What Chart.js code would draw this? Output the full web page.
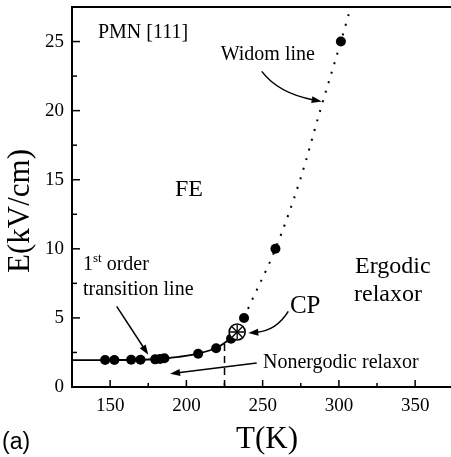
<!DOCTYPE html>
<html>
<head>
<meta charset="utf-8">
<script src="https://cdn.jsdelivr.net/npm/chart.js@4.4.0/dist/chart.umd.min.js"></script>
<style>
  html, body { margin: 0; padding: 0; background: #fff; }
  #wrap { width: 451px; height: 457px; }
</style>
</head>
<body>
<div id="wrap"><canvas id="phaseChart"></canvas></div>
<script>
// axis ticks
const xTicks = [150, 200, 250, 300, 350]
const xMinor = [175, 225, 275, 325]
const yTicks = [0, 5, 10, 15, 20, 25]
const yMinor = [2.5, 7.5, 12.5, 17.5, 22.5]

// measured points
const pointT = [146.7, 152.8, 163.8, 169.9, 179.5, 182.8, 185.6, 207.7, 219.5, 229.3, 237.8, 258.4, 301.3]
const pointE = [1.95, 1.95, 1.97, 1.97, 2.0, 2.03, 2.08, 2.41, 2.8, 3.5, 4.99, 10.0, 25.0]

// critical point
const cpT = [233.3]
const cpE = [3.98]

// 1st order transition line (solid)
const firstOrderT = [125, 150, 175, 185, 195, 207.7, 219.5, 227, 233.3]
const firstOrderE = [1.94, 1.95, 1.99, 2.06, 2.18, 2.42, 2.82, 3.35, 3.98]

// Widom line (dotted)
const widomT = [237.8, 241.7, 258.4, 274.6, 287.7, 301.3, 307.8]
const widomE = [4.99, 5.97, 10.0, 15.0, 20.0, 25.0, 27.5]

// dashed marker at 225 K
const markT = [225, 225]
const markE = [0, 3.3]

const xy = (xs, ys) => xs.map((v, i) => ({ x: v, y: ys[i] }))

const notes = [
  { text: 'PMN [111]', t: 142, e: 25.64, size: 20 },
  { text: 'Widom line', t: 222.5, e: 24.04, size: 20 },
  { text: 'FE', t: 201.7, e: 14.28, size: 24, align: 'center' },
  { text: 'Ergodic', t: 310.6, e: 8.7, size: 24 },
  { text: 'relaxor', t: 309.9, e: 6.68, size: 24 },
  { text: 'CP', t: 267.9, e: 5.81, size: 25 },
  { text: 'transition line', t: 132.2, e: 7.04, size: 20 },
  { text: 'Nonergodic relaxor', t: 250.2, e: 1.76, size: 20 },
]

const arrows = [
  { from: [249.4, 22.84], via: [260.5, 21.24], to: [288.7, 20.67] },
  { from: [266.8, 5.47], via: [259.0, 4.07], to: [240.6, 3.91] },
  { from: [154.3, 5.83], to: [175.0, 2.34] },
  { from: [246.1, 1.74], to: [189.3, 0.96] },
]

const serif = 'Liberation Serif'

const noPad = s => { s.paddingTop = 0; s.paddingBottom = 0; s.paddingLeft = 0; s.paddingRight = 0 }

const decor = {
  id: 'decor',
  afterDraw(chart) {
    const ctx = chart.ctx
    const sx = chart.scales.x, sy = chart.scales.y
    const area = chart.chartArea
    ctx.save()
    ctx.strokeStyle = '#000'
    ctx.fillStyle = '#000'

    // inward ticks
    ctx.lineWidth = 1.5
    const tickX = (v, len) => {
      const px = sx.getPixelForValue(v)
      ctx.beginPath(); ctx.moveTo(px, area.bottom); ctx.lineTo(px, area.bottom - len); ctx.stroke()
    }
    const tickY = (v, len) => {
      const py = sy.getPixelForValue(v)
      ctx.beginPath(); ctx.moveTo(area.left, py); ctx.lineTo(area.left + len, py); ctx.stroke()
    }
    xTicks.forEach(v => tickX(v, 7))
    xMinor.forEach(v => tickX(v, 4))
    yTicks.filter(v => v > 0).forEach(v => tickY(v, 8))
    yMinor.forEach(v => tickY(v, 5))

    // arrows
    ctx.lineWidth = 1.5
    arrows.forEach(a => {
      const p0 = [sx.getPixelForValue(a.from[0]), sy.getPixelForValue(a.from[1])]
      const p2 = [sx.getPixelForValue(a.to[0]), sy.getPixelForValue(a.to[1])]
      const p1 = a.via ? [sx.getPixelForValue(a.via[0]), sy.getPixelForValue(a.via[1])] : p0
      const ang = Math.atan2(p2[1] - p1[1], p2[0] - p1[0])
      const head = 10
      const bx = p2[0] - Math.cos(ang) * head * 0.8
      const by = p2[1] - Math.sin(ang) * head * 0.8
      ctx.beginPath()
      ctx.moveTo(p0[0], p0[1])
      if (a.via) ctx.quadraticCurveTo(p1[0], p1[1], bx, by)
      else ctx.lineTo(bx, by)
      ctx.stroke()
      ctx.beginPath()
      ctx.moveTo(p2[0], p2[1])
      ctx.lineTo(p2[0] - Math.cos(ang) * head + Math.sin(ang) * 3.5, p2[1] - Math.sin(ang) * head - Math.cos(ang) * 3.5)
      ctx.lineTo(p2[0] - Math.cos(ang) * head - Math.sin(ang) * 3.5, p2[1] - Math.sin(ang) * head + Math.cos(ang) * 3.5)
      ctx.closePath()
      ctx.fill()
    })

    // texts
    ctx.textBaseline = 'middle'
    notes.forEach(n => {
      ctx.font = n.size + 'px "' + serif + '"'
      ctx.textAlign = n.align || 'left'
      ctx.fillText(n.text, sx.getPixelForValue(n.t), sy.getPixelForValue(n.e))
    })

    // "1st order" with superscript
    let px = sx.getPixelForValue(132.2)
    const py = sy.getPixelForValue(8.85)
    ctx.textAlign = 'left'
    ctx.font = '20px "' + serif + '"'
    ctx.fillText('1', px, py)
    px += ctx.measureText('1').width
    ctx.font = '13px "' + serif + '"'
    ctx.fillText('st', px, py - 6)
    px += ctx.measureText('st').width
    ctx.font = '20px "' + serif + '"'
    ctx.fillText(' order', px, py)

    // axis titles
    ctx.font = '31px "' + serif + '"'
    ctx.textAlign = 'center'
    ctx.fillText('T(K)', 267, 440)
    ctx.save()
    ctx.translate(21, 211)
    ctx.rotate(-Math.PI / 2)
    ctx.fillText('E(kV/cm)', 0, 0)
    ctx.restore()

    // panel label
    ctx.font = '23px "Liberation Sans"'
    ctx.textAlign = 'left'
    ctx.fillText('(a)', 2, 443)
    ctx.restore()
  }
}

new Chart(document.getElementById('phaseChart'), {
  type: 'scatter',
  data: {
    datasets: [
      {
        data: xy(cpT, cpE), pointStyle: 'crossRot', pointRadius: 7,
        borderColor: '#000', borderWidth: 1.3, order: 0
      },
      {
        data: xy(cpT, cpE), pointStyle: 'cross', pointRadius: 7,
        borderColor: '#000', borderWidth: 1.3, order: 1
      },
      {
        data: xy(cpT, cpE), pointStyle: 'circle', pointRadius: 8,
        backgroundColor: '#fff', borderColor: '#000', borderWidth: 1.6, order: 2
      },
      {
        data: xy(pointT, pointE), pointRadius: 5,
        backgroundColor: '#000', borderColor: '#000', borderWidth: 0, order: 3
      },
      {
        data: xy(firstOrderT, firstOrderE), showLine: true, pointRadius: 0,
        borderColor: '#000', borderWidth: 1.8, cubicInterpolationMode: 'monotone', order: 4
      },
      {
        data: xy(widomT, widomE), showLine: true, pointRadius: 0,
        borderColor: '#000', borderWidth: 2, borderDash: [2, 8],
        cubicInterpolationMode: 'monotone', order: 5
      },
      {
        data: xy(markT, markE), showLine: true, pointRadius: 0,
        borderColor: '#000', borderWidth: 1.5, borderDash: [7, 5], order: 6
      },
    ]
  },
  options: {
    responsive: true,
    maintainAspectRatio: false,
    animation: false,
    layout: { autoPadding: false, padding: { top: 7, right: 0, left: 0, bottom: 0 } },
    plugins: { legend: { display: false }, tooltip: { enabled: false } },
    scales: {
      x: {
        type: 'linear', position: 'bottom', min: 125, max: 373.5,
        afterBuildTicks: s => { s.ticks = xTicks.map(v => ({ value: v })) },
        afterFit: s => { s.height = 70; noPad(s) },
        grid: { drawOnChartArea: false, drawTicks: false },
        border: { color: '#000', width: 2 },
        ticks: { color: '#000', padding: 8, maxRotation: 0, font: { family: serif, size: 19 } }
      },
      top: {
        type: 'linear', position: 'top', min: 125, max: 373.5,
        afterFit: s => { s.height = 0; noPad(s) },
        grid: { drawOnChartArea: false, drawTicks: false },
        border: { color: '#000', width: 2 },
        ticks: { display: false }
      },
      y: {
        type: 'linear', position: 'left', min: 0, max: 27.5,
        afterBuildTicks: s => { s.ticks = yTicks.map(v => ({ value: v })) },
        afterFit: s => { s.width = 72; noPad(s) },
        grid: { drawOnChartArea: false, drawTicks: false },
        border: { color: '#000', width: 2 },
        ticks: { color: '#000', padding: 8, font: { family: serif, size: 19 } }
      }
    }
  },
  plugins: [decor]
})
</script>
</body>
</html>
